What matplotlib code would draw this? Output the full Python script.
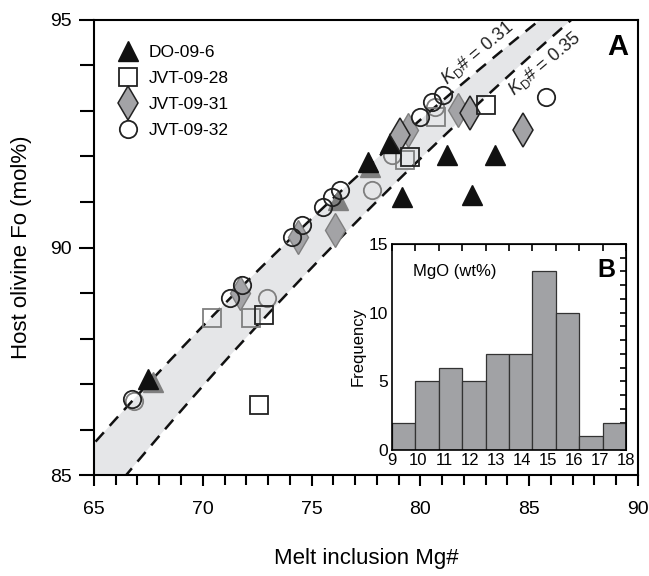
import numpy as np
import matplotlib.pyplot as plt
from matplotlib.lines import Line2D
from matplotlib.ticker import MultipleLocator

plt.rcParams['font.family'] = ['Liberation Sans', 'DejaVu Sans']
plt.rcParams['mathtext.fontset'] = 'custom'
plt.rcParams['mathtext.rm'] = 'Liberation Sans'
plt.rcParams['mathtext.it'] = 'Liberation Sans:italic'

# melt inclusion Mg# and host olivine Fo (mol%), black-outlined symbols
do_mg = [67.50, 77.61, 78.60, 81.24, 83.43, 79.14, 82.36]
do_fo = [87.10, 91.89, 92.29, 92.03, 92.03, 91.12, 91.15]

jvt28_mg = [83.00, 79.52, 72.81, 72.60]
jvt28_fo = [93.13, 91.98, 88.52, 86.54]

jvt31_mg = [84.70, 82.28, 79.06]
jvt31_fo = [92.58, 92.95, 92.47]

jvt32_mg = [85.77, 81.05, 80.52, 79.98, 76.31, 75.92, 75.54, 74.55, 74.09, 71.79, 71.25, 66.73]
jvt32_fo = [93.30, 93.35, 93.20, 92.87, 91.26, 91.12, 90.90, 90.49, 90.24, 89.18, 88.88, 86.66]

# grey symbols
do_grey_mg = [67.73, 77.68, 76.23]
do_grey_fo = [87.05, 91.78, 91.04]

jvt28_grey_mg = [80.72, 79.29, 70.44, 72.20]
jvt28_grey_fo = [92.87, 91.92, 88.44, 88.44]

jvt31_grey_mg = [81.74, 79.44, 76.08, 74.39, 71.71]
jvt31_grey_fo = [93.02, 92.58, 90.38, 90.24, 88.99]

jvt32_grey_mg = [80.67, 78.68, 77.76, 72.94, 66.84]
jvt32_grey_fo = [93.09, 92.03, 91.26, 88.88, 86.63]

# olivine-melt Fe-Mg exchange coefficients
kd_values = [0.31, 0.35]

# inset histogram of MgO (wt%)
mgo_edges = [9, 10, 11, 12, 13, 14, 15, 16, 17, 18, 19]
mgo_counts = [2, 5, 6, 5, 7, 7, 13, 10, 1, 2]
mgo_labels = ['9', '10', '11', '12', '13', '14', '15', '16', '17', '18']


def fo_from_mg(mg, kd):
    return 100.0 / (1.0 + kd * (100.0 - mg) / mg)


fig = plt.figure(figsize=(6.49, 5.76), dpi=100)
ax = fig.add_axes([0.1448, 0.1753, 0.8382, 0.79])

mg = np.linspace(60, 95, 400)
fo_lo = fo_from_mg(mg, kd_values[0])
fo_hi = fo_from_mg(mg, kd_values[1])
ax.fill_between(mg, fo_hi, fo_lo, color='#e5e6e8', lw=0, zorder=1)
for kd in kd_values:
    ax.plot(mg, fo_from_mg(mg, kd), color='#111111', lw=1.8,
            dashes=(5, 3.5), zorder=2)

grey = '#7f7f7f'
ax.plot(do_grey_mg, do_grey_fo, '^', ms=15, mfc=grey, mec=grey, mew=1, zorder=3)
ax.plot(jvt31_grey_mg, jvt31_grey_fo, 'd', ms=17, mfc='#a3a3a6', mec=grey, mew=1, zorder=3)
ax.plot(jvt28_grey_mg, jvt28_grey_fo, 's', ms=12.5, mfc='none', mec=grey, mew=1.3, zorder=3)
ax.plot(jvt32_grey_mg, jvt32_grey_fo, 'o', ms=12.5, mfc='none', mec=grey, mew=1.3, zorder=3)

ax.plot(do_mg, do_fo, '^', ms=15, mfc='#111111', mec='#111111', mew=1, zorder=4)
ax.plot(jvt31_mg, jvt31_fo, 'd', ms=17, mfc='#a3a3a6', mec='#222222', mew=1.1, zorder=4)
ax.plot(jvt28_mg, jvt28_fo, 's', ms=12.5, mfc='none', mec='#222222', mew=1.3, zorder=4)
ax.plot(jvt32_mg, jvt32_fo, 'o', ms=12.5, mfc='none', mec='#222222', mew=1.3, zorder=5)

ax.set_xlim(65, 90)
ax.set_ylim(85, 95)
ax.xaxis.set_major_locator(MultipleLocator(5))
ax.xaxis.set_minor_locator(MultipleLocator(1))
ax.yaxis.set_major_locator(MultipleLocator(5))
ax.yaxis.set_minor_locator(MultipleLocator(1))
ax.tick_params(axis='x', which='major', direction='out', length=8, width=1.5,
               labelsize=14, pad=11)
ax.tick_params(axis='x', which='minor', direction='out', length=7, width=1.5)
ax.tick_params(axis='y', which='major', direction='out', length=11, width=1.5,
               labelsize=14, pad=5)
ax.tick_params(axis='y', which='minor', direction='out', length=10, width=1.5)
for s in ax.spines.values():
    s.set_linewidth(1.5)

ax.set_xlabel('Melt inclusion Mg#', fontsize=16, labelpad=21)
ax.set_ylabel('Host olivine Fo (mol%)', fontsize=16, labelpad=13)

ax.text(0.982, 0.971, 'A', transform=ax.transAxes, fontsize=21,
        fontweight='bold', ha='right', va='top')
ax.text(82.6, 94.27, r'$K_{\rm D}$# = 0.31', fontsize=13, rotation=40,
        ha='center', va='center', color='#222222')
ax.text(85.68, 94.03, r'$K_{\rm D}$# = 0.35', fontsize=13, rotation=40,
        ha='center', va='center', color='#222222')

handles = [
    Line2D([], [], ls='none', marker='^', ms=15, mfc='#111111', mec='#111111'),
    Line2D([], [], ls='none', marker='s', ms=12.5, mfc='none', mec='#222222', mew=1.3),
    Line2D([], [], ls='none', marker='d', ms=17, mfc='#a3a3a6', mec='#222222', mew=1.1),
    Line2D([], [], ls='none', marker='o', ms=12.5, mfc='none', mec='#222222', mew=1.3),
]
ax.legend(handles, ['DO-09-6', 'JVT-09-28', 'JVT-09-31', 'JVT-09-32'],
          loc='upper left', bbox_to_anchor=(0.015, 0.98), frameon=False,
          fontsize=12.5, handlelength=1.2, handletextpad=0.6, labelspacing=0.62)

# inset histogram
ins = fig.add_axes([0.604, 0.2188, 0.3606, 0.3576])
ins.bar(mgo_edges[:-1], mgo_counts, width=1, align='edge', color='#a1a2a5',
        edgecolor='#333333', lw=0.9)
ins.set_xlim(mgo_edges[0], mgo_edges[-1])
ins.set_ylim(0, 15)
ins.set_xticks(np.linspace(mgo_edges[0], mgo_edges[-1], len(mgo_labels)))
ins.set_xticklabels(mgo_labels)
ins.set_yticks([0, 5, 10, 15])
ins.tick_params(axis='x', length=0, labelsize=12, pad=2)
ins.tick_params(axis='y', length=0, labelsize=12.5, pad=3)
for s in ins.spines.values():
    s.set_linewidth(1.2)
top = ins.secondary_xaxis('top')
top.set_xticks(mgo_edges)
top.tick_params(direction='in', length=5, width=1.2, labeltop=False)
right = ins.secondary_yaxis('right')
right.set_yticks(range(0, 16))
right.tick_params(direction='in', length=4.5, width=1.2, labelright=False)
ins.set_ylabel('Frequency', fontsize=12, labelpad=2)
ins.text(0.09, 0.865, 'MgO (wt%)', transform=ins.transAxes, fontsize=12,
         ha='left', va='center')
ins.text(0.955, 0.875, 'B', transform=ins.transAxes, fontsize=18,
         fontweight='bold', ha='right', va='center')

fig.savefig('out.png', dpi=100)
